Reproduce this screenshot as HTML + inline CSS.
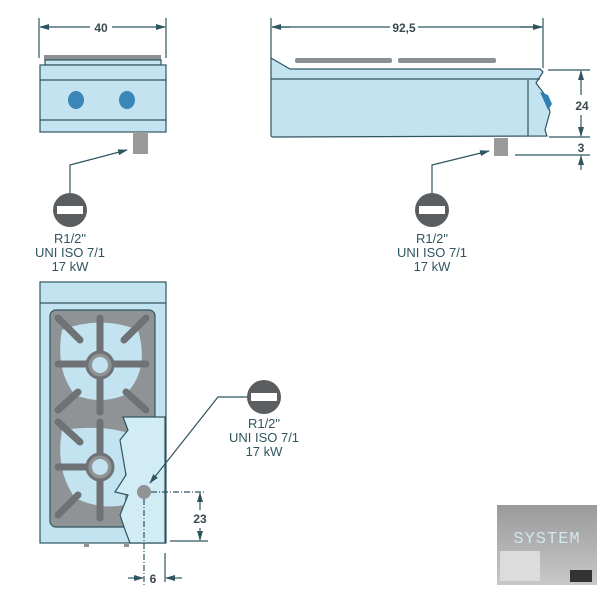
<!DOCTYPE html>
<html><head><style>body{margin:0;background:#fff}svg{display:block}</style></head><body>
<svg width="600" height="592" viewBox="0 0 600 592" xmlns="http://www.w3.org/2000/svg" font-family="Liberation Sans, sans-serif">
<defs>
<marker id="a" markerWidth="10" markerHeight="6" refX="9" refY="3" orient="auto" markerUnits="userSpaceOnUse"><path d="M0,0L10,3L0,6z" fill="#2f5560"/></marker>
<linearGradient id="lg" x1="0" y1="0" x2="0" y2="1"><stop offset="0" stop-color="#9a9a9a"/><stop offset="1" stop-color="#c8c8c8"/></linearGradient>
</defs>
<g stroke="#2f5560" stroke-width="1.2" fill="none">
<!-- front view -->
<line x1="39" y1="18" x2="39" y2="58"/><line x1="166" y1="18" x2="166" y2="58"/>
<line x1="60" y1="27" x2="40" y2="27" marker-end="url(#a)"/><line x1="140" y1="27" x2="165" y2="27" marker-end="url(#a)"/>
<line x1="60" y1="27" x2="90" y2="27"/><line x1="112" y1="27" x2="140" y2="27"/>
<rect x="44" y="55" width="117" height="5" fill="#8a8f94" stroke="none"/>
<rect x="45" y="60" width="116" height="5" fill="#c9e6f2"/>
<rect x="40" y="65" width="126" height="67" fill="#c3e3f1"/>
<line x1="40" y1="80" x2="166" y2="80"/><line x1="40" y1="120" x2="166" y2="120"/>
<ellipse cx="76" cy="100" rx="8" ry="9" fill="#3a86b8" stroke="none"/>
<ellipse cx="127" cy="100" rx="8" ry="9" fill="#3a86b8" stroke="none"/>
<rect x="133" y="132" width="15" height="22" fill="#9a9a9a" stroke="none"/>
<polyline points="70,195 70,165 127,150" marker-end="url(#a)"/>
<!-- side view -->
<line x1="271" y1="18" x2="271" y2="58"/><line x1="543" y1="18" x2="543" y2="68"/>
<line x1="272" y1="27" x2="390" y2="27"/><line x1="418" y1="27" x2="542" y2="27"/>
<line x1="290" y1="27" x2="272" y2="27" marker-end="url(#a)"/><line x1="520" y1="27" x2="542" y2="27" marker-end="url(#a)"/>
<rect x="295" y="58" width="97" height="5" rx="2" fill="#8a8f94" stroke="none"/>
<rect x="398" y="58" width="98" height="5" rx="2" fill="#8a8f94" stroke="none"/>
<path d="M271,58 L290,69 L540,69 L543,72 L536,83 L545,95 L550,112 L545,130 L547,136 L273,137 Q271,137 271,135 Z" fill="#c3e3f1"/>
<line x1="271" y1="79" x2="540" y2="79"/><line x1="528" y1="80" x2="528" y2="136"/>
<path d="M540,92 L548,95 L552,104 L548,110 Z" fill="#2e7fb4" stroke="none"/>
<rect x="494" y="138" width="14" height="18" fill="#9a9a9a" stroke="none"/>
<polyline points="432,195 432,165 489,151" marker-end="url(#a)"/>
<line x1="548" y1="70" x2="590" y2="70"/><line x1="549" y1="137" x2="590" y2="137"/><line x1="515" y1="155" x2="590" y2="155"/>
<line x1="581" y1="95" x2="581" y2="71" marker-end="url(#a)"/><line x1="581" y1="115" x2="581" y2="136" marker-end="url(#a)"/>
<line x1="581" y1="170" x2="581" y2="156" marker-end="url(#a)"/>
<!-- top view -->
<rect x="40" y="282" width="126" height="261" fill="#c3e3f1"/>
<line x1="40" y1="303" x2="166" y2="303"/>
<rect x="50" y="310" width="105" height="217" rx="6" fill="#8f9396" stroke="#2f5560"/>
<path d="M62,330 Q100,315 138,330 Q150,370 125,395 Q100,405 75,395 Q55,370 62,330Z" fill="#c3e3f1" stroke="none"/>
<path d="M62,430 Q100,425 125,432 L125,505 Q100,510 75,498 Q55,470 62,430Z" fill="#c3e3f1" stroke="none"/>
<g stroke="#6e7275" stroke-width="7" stroke-linecap="round">
<line x1="100" y1="318" x2="100" y2="352"/><line x1="58" y1="364" x2="86" y2="364"/><line x1="114" y1="364" x2="146" y2="364"/><line x1="100" y1="378" x2="100" y2="412"/>
<line x1="58" y1="318" x2="80" y2="340"/><line x1="146" y1="318" x2="124" y2="340"/><line x1="58" y1="410" x2="78" y2="392"/><line x1="146" y1="410" x2="126" y2="392"/>
<line x1="100" y1="422" x2="100" y2="455"/><line x1="58" y1="467" x2="86" y2="467"/><line x1="100" y1="480" x2="100" y2="518"/>
<line x1="58" y1="422" x2="80" y2="442"/><line x1="58" y1="515" x2="78" y2="495"/>
</g>
<circle cx="100" cy="365" r="13" fill="#8f9396" stroke="#6e7275" stroke-width="3"/><circle cx="100" cy="365" r="8" fill="#c3e3f1" stroke="none"/>
<circle cx="100" cy="467" r="13" fill="#8f9396" stroke="#6e7275" stroke-width="3"/><circle cx="100" cy="467" r="8" fill="#c3e3f1" stroke="none"/>
<path d="M123,417 L165,417 L165,543 L130,543 L125,530 L120,515 L128,495 L115,492 L126,475 L120,440 L128,430 Z" fill="#d2ecf6"/>
<circle cx="144" cy="492" r="7" fill="#8f9396" stroke="none"/>
<rect x="84" y="543" width="5" height="4" fill="#8f9396" stroke="none"/><rect x="124" y="543" width="5" height="4" fill="#8f9396" stroke="none"/>
<line x1="151" y1="492" x2="206" y2="492" stroke-dasharray="6,2,1,2"/><line x1="144" y1="499" x2="144" y2="585" stroke-dasharray="6,2,1,2"/>
<line x1="170" y1="541" x2="208" y2="541"/>
<line x1="200" y1="510" x2="200" y2="493" marker-end="url(#a)"/><line x1="200" y1="528" x2="200" y2="540" marker-end="url(#a)"/>
<line x1="165" y1="553" x2="165" y2="582"/>
<line x1="128" y1="578" x2="143" y2="578" marker-end="url(#a)"/><line x1="182" y1="578" x2="166" y2="578" marker-end="url(#a)"/>
<polyline points="247,397 218,397 150,483" marker-end="url(#a)"/>
</g>
<g fill="#5a5e60">
<circle cx="70" cy="210" r="17"/><circle cx="432" cy="210" r="17"/><circle cx="264" cy="397" r="17"/>
</g>
<g fill="#fff">
<rect x="57" y="206" width="26" height="8"/><rect x="419" y="206" width="26" height="8"/><rect x="251" y="393" width="26" height="8"/>
</g>
<g font-size="13" fill="#2f5560" text-anchor="middle">
<text x="70" y="243">R1/2"</text><text x="70" y="257">UNI ISO 7/1</text><text x="70" y="271">17 kW</text>
<text x="432" y="243">R1/2"</text><text x="432" y="257">UNI ISO 7/1</text><text x="432" y="271">17 kW</text>
<text x="264" y="428">R1/2"</text><text x="264" y="442">UNI ISO 7/1</text><text x="264" y="456">17 kW</text>
</g>
<g font-size="12" font-weight="bold" fill="#3a4a50" text-anchor="middle">
<text x="101" y="32">40</text><text x="404" y="32">92,5</text>
<text x="582" y="110">24</text><text x="581" y="152">3</text>
<text x="200" y="523">23</text><text x="153" y="583">6</text>
</g>
<rect x="497" y="505" width="100" height="80" fill="url(#lg)"/>
<rect x="500" y="551" width="40" height="30" fill="#dcdcdc"/>
<rect x="570" y="570" width="22" height="12" fill="#333"/>
<text x="547" y="543" font-size="17" text-anchor="middle" fill="#cfe8ee" font-family="Liberation Mono, monospace" letter-spacing="1">SYSTEM</text>
</svg>
</body></html>
